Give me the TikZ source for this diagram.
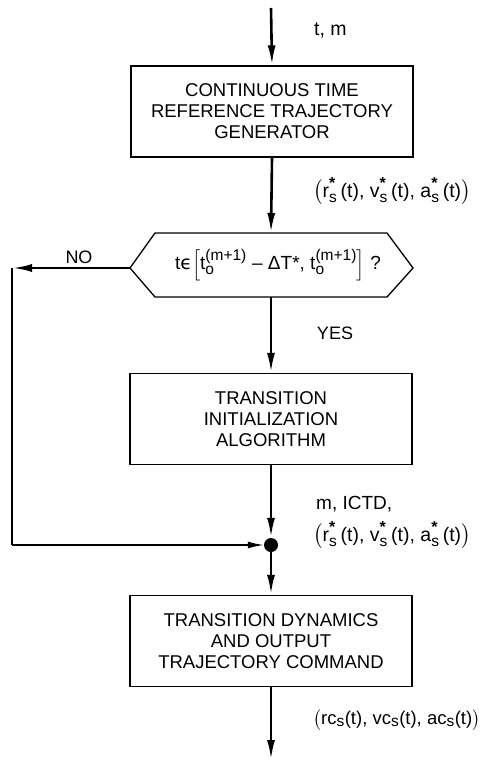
\documentclass[tikz,border=0pt]{standalone}
\usepackage{amsmath}
\usepackage{fontspec}
\setmainfont{Liberation Sans}
\newfontfamily\djv{DejaVu Sans}
\usetikzlibrary{arrows.meta}
\newcommand\smallt[1]{\mbox{\fontsize{15.5}{15.5}\selectfont #1}}
\newcommand\stars{\raisebox{0.1ex}{\fontsize{16}{16}\selectfont\bfseries *}}
\newcommand\tsub[1]{$_{\smallt{#1}}$}
\newcommand\tstar{$^{\mbox{\stars}}_{\smallt{s}}$\,}
\newcommand\tom{$^{\smallt{(m+1)}}_{\smallt{o}}$}
\begin{document}
\begin{tikzpicture}[x=1pt,y=-1pt,
  procbox/.style={draw, line width=1.3pt, minimum width=282pt, minimum height=91pt,
    align=center, inner sep=0pt, font=\fontsize{18.5}{21}\selectfont},
  flow/.style={line width=2.6pt, -{Latex[length=20pt,width=8pt]}},
  thinflow/.style={line width=1.4pt, -{Latex[length=16pt,width=7pt]}},
  lbl/.style={anchor=west, inner sep=0pt, font=\fontsize{19.5}{23}\selectfont, align=left},
  hexline/.style={line width=1.3pt, line join=miter}]
\useasboundingbox (0,0) rectangle (484,770);

\coordinate (top) at (271,8);
\node[procbox] (b1) at (272,111.5) {CONTINUOUS TIME\\REFERENCE TRAJECTORY\\GENERATOR};

% decision hexagon
\coordinate (hl) at (130,268);
\coordinate (h1) at (155,233);
\coordinate (h2) at (387,233);
\coordinate (hr) at (413,268);
\coordinate (h3) at (387,297);
\coordinate (h4) at (155,297);
\coordinate (hxtop) at (271,233);
\coordinate (hxbot) at (271,297);
\draw[hexline] (hl) -- (h1) -- (h2) -- (hr) -- (h3) -- (h4) -- cycle;
\node[font=\fontsize{19}{22}\selectfont, inner sep=0pt] (dec) at (278,265)
  {t{\djv ϵ}$\Bigl[$t\tom{} – ΔT*, t\tom$\Bigr]$ ?};

\node[procbox] (b2) at (271,419) {TRANSITION\\INITIALIZATION\\ALGORITHM};
\node[circle, fill=black, minimum size=14pt, inner sep=0pt] (dot) at (271,545) {};
\node[procbox] (b3) at (271,641) {TRANSITION DYNAMICS\\AND OUTPUT\\TRAJECTORY COMMAND};
\coordinate (end) at (271,760);

\coordinate (nc) at (12,268);
\coordinate (nb) at (12,545);

% connectors
\draw[flow] (top) -- (b1.north);
\draw[flow] (b1.south) -- (hxtop);
\draw[flow] (hxbot) -- (b2.north);
\draw[flow] (hl) -- (nc);
\draw[line width=2.6pt] (nc) -- (nb);
\draw[thinflow] (nb) -- (dot.west);
\draw[flow] (b2.south) -- (dot.north);
\draw[flow] (dot.south) -- (b3.north);
\draw[flow] (b3.south) -- (end);

% labels
\node[lbl] (l0) at (314,30) {t, m};
\node[lbl] (l1) at (313,191) {$\bigl($r\tstar(t), v\tstar(t), a\tstar(t)$\bigr)$};
\node[font=\fontsize{18}{21}\selectfont] (lno) at (79,257) {NO};
\node[font=\fontsize{18}{21}\selectfont] (lyes) at (335,333) {YES};
\node[lbl, font=\fontsize{19}{22}\selectfont] (l2a) at (316,504) {m, ICTD,};
\node[lbl] (l2) at (313,535) {$\bigl($r\tstar(t), v\tstar(t), a\tstar(t)$\bigr)$};
\node[lbl, font=\fontsize{18.5}{22}\selectfont] (l3) at (313,720) {$\bigl($rc\tsub{s}(t), vc\tsub{s}(t), ac\tsub{s}(t)$\bigr)$};
\end{tikzpicture}
\end{document}
